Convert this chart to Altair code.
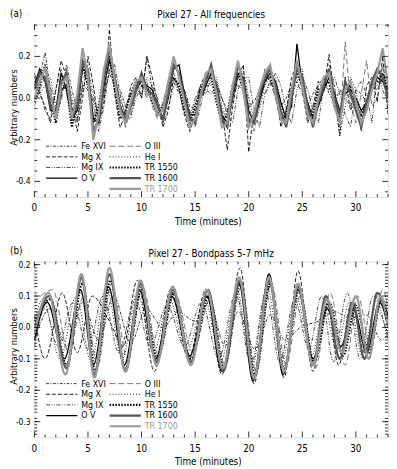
import altair as alt
import pandas as pd

FONT = "Liberation Sans Narrow, DejaVu Sans Condensed, sans-serif"

SERIES = ["Fe XVI", "Mg X", "Mg IX", "O V", "O III", "He I", "TR 1550", "TR 1600", "TR 1700"]
COLORS = ["#000000", "#000000", "#333333", "#000000", "#555555", "#000000", "#000000", "#555555", "#9a9a9a"]
TEXT_COLORS = ["#000000"] * 8 + ["#9a9a9a"]
DASHES = [[3, 1.5, 1, 1.5], [4, 2], [4, 1.5, 1, 1.5, 1, 1.5], [1, 0], [6, 3], [1, 2], [1.5, 1.5], [1, 0], [1, 0]]
WIDTHS = [0.8, 0.9, 0.9, 1.3, 0.8, 0.9, 2.2, 2.2, 2.2]
LEG_COL = [0, 0, 0, 0, 1, 1, 1, 1, 1]
LEG_ROW = [0, 1, 2, 3, 0, 1, 2, 3, 4]

# ---------------- panel (a): all frequencies, sampled every 0.5 min ----------------
T_A = [i * 0.5 for i in range(67)]

A_FE16 = [0.00, 0.10, 0.22, 0.04, -0.10, 0.00, 0.16, 0.04, -0.06, 0.06,
          0.04, 0.00, -0.08, 0.02, 0.12, 0.06, 0.04, -0.04, 0.02, 0.06,
          0.00, 0.20, 0.04, -0.02, -0.06, 0.02, 0.08, 0.02, 0.04, -0.04,
          -0.06, 0.00, 0.04, 0.02, 0.06, 0.00, -0.06, 0.02, 0.06, 0.04,
          -0.04, -0.02, 0.04, 0.02, 0.08, 0.04, -0.04, 0.00, 0.06, 0.08,
          0.02, -0.04, 0.02, 0.06, 0.10, 0.02, -0.02, 0.04, 0.00, -0.04,
          0.04, 0.02, -0.02, 0.06, 0.04, 0.10, 0.00]
A_MG10 = [0.12, 0.02, -0.04, -0.12, 0.04, 0.18, 0.10, -0.04, -0.16, 0.00,
          0.20, 0.06, -0.12, -0.02, 0.33, 0.02, -0.14, -0.08, 0.06, 0.10,
          0.00, 0.20, 0.10, -0.02, -0.14, -0.06, 0.10, 0.04, -0.08, -0.16,
          -0.08, 0.06, 0.12, 0.14, 0.02, -0.06, -0.25, -0.04, 0.10, 0.16,
          -0.26, -0.06, 0.02, 0.08, 0.14, 0.06, -0.14, -0.06, 0.10, 0.16,
          0.04, -0.12, -0.04, 0.08, 0.04, 0.21, 0.00, -0.18, 0.10, -0.06,
          0.00, -0.16, 0.06, 0.10, -0.02, 0.20, -0.08]
A_MG9 = [0.10, 0.04, -0.06, -0.10, 0.04, 0.14, 0.02, -0.06, -0.12, 0.06,
         0.08, -0.02, -0.16, -0.04, 0.14, 0.16, 0.02, -0.10, -0.08, 0.00,
         0.06, 0.00, 0.06, 0.00, -0.12, -0.04, 0.06, 0.08, 0.04, -0.06,
         -0.14, -0.04, 0.06, 0.06, 0.08, 0.00, -0.08, -0.12, 0.04, 0.10,
         0.10, -0.06, -0.14, 0.02, 0.06, 0.12, 0.06, -0.06, -0.12, 0.04,
         0.10, 0.04, -0.06, -0.12, 0.06, 0.04, 0.10, 0.02, -0.08, -0.14,
         0.04, 0.08, 0.02, -0.12, 0.14, 0.04, -0.02]
A_O5 = [0.06, 0.14, 0.08, -0.06, -0.06, 0.12, 0.04, -0.10, -0.06, 0.14,
        0.12, -0.10, -0.12, 0.06, 0.18, 0.10, -0.06, -0.12, -0.04, 0.06,
        0.08, 0.06, 0.04, -0.04, -0.10, 0.00, 0.14, 0.16, 0.02, -0.08,
        -0.08, 0.00, 0.06, 0.12, 0.06, -0.08, -0.12, 0.00, 0.12, 0.10,
        -0.06, -0.12, -0.02, 0.08, 0.12, 0.08, -0.02, -0.10, -0.04, 0.26,
        0.06, -0.02, -0.10, -0.04, 0.04, 0.10, 0.02, -0.06, 0.02, 0.04,
        0.00, -0.06, -0.02, 0.04, 0.10, 0.08, 0.02]
A_O3 = [-0.04, 0.04, 0.10, 0.06, -0.06, -0.02, 0.14, -0.02, -0.12, 0.08,
        0.16, -0.06, -0.14, 0.04, 0.16, 0.12, -0.02, -0.14, -0.06, 0.02,
        0.10, 0.08, -0.04, -0.10, -0.02, 0.08, 0.12, 0.04, -0.08, -0.10,
        0.00, 0.06, 0.04, 0.08, 0.08, -0.06, -0.10, 0.04, 0.10, 0.12,
        -0.02, -0.16, -0.04, 0.14, 0.08, 0.00, -0.12, -0.06, 0.06, 0.10,
        0.12, -0.10, -0.06, 0.06, 0.02, 0.16, 0.06, -0.14, 0.27, -0.02,
        -0.12, 0.02, 0.18, -0.04, 0.00, 0.16, -0.06]
A_HE1 = [0.08, 0.02, 0.06, 0.10, -0.04, 0.02, 0.12, 0.00, -0.10, 0.04,
         0.14, 0.02, -0.12, 0.00, 0.14, 0.08, 0.00, -0.08, -0.10, 0.04,
         0.02, 0.10, 0.06, -0.06, -0.12, 0.04, 0.08, 0.10, -0.04, -0.08,
         -0.02, 0.06, 0.02, 0.10, 0.10, -0.04, -0.10, -0.02, 0.10, 0.14,
         0.00, -0.10, -0.06, 0.06, 0.10, 0.10, -0.02, -0.12, 0.00, 0.08,
         0.14, -0.02, -0.10, 0.02, 0.04, 0.06, 0.06, -0.18, -0.04, 0.10,
         0.04, -0.10, -0.04, 0.04, 0.06, 0.12, 0.08]
A_TR1550 = [-0.02, 0.06, 0.16, 0.00, -0.12, 0.04, 0.06, -0.14, 0.00, 0.16,
            0.06, -0.12, -0.04, 0.12, 0.20, 0.04, -0.10, -0.06, 0.02, 0.08,
            0.06, 0.06, -0.02, -0.08, -0.04, 0.06, 0.10, 0.06, -0.06, -0.12,
            -0.04, 0.04, 0.10, 0.10, -0.02, -0.12, -0.08, 0.06, 0.12, 0.04,
            -0.12, -0.08, 0.00, 0.08, 0.10, 0.02, -0.10, -0.08, 0.04, 0.12,
            0.06, -0.08, -0.08, 0.04, 0.06, 0.08, -0.04, -0.10, 0.04, 0.06,
            -0.04, -0.08, -0.02, 0.06, 0.08, 0.12, 0.04]
A_TR1600 = [0.04, 0.12, 0.10, -0.04, -0.08, 0.08, 0.12, -0.08, -0.04, 0.18,
            0.12, -0.16, -0.10, 0.10, 0.24, 0.10, -0.04, -0.10, -0.04, 0.04,
            0.12, 0.04, 0.02, -0.04, -0.10, 0.02, 0.16, 0.12, 0.00, -0.10,
            -0.12, 0.02, 0.08, 0.16, 0.04, -0.10, -0.14, 0.02, 0.16, 0.08,
            -0.10, -0.12, 0.02, 0.10, 0.14, 0.06, -0.06, -0.14, 0.00, 0.14,
            0.10, -0.04, -0.14, -0.02, 0.06, 0.14, 0.00, -0.08, 0.08, 0.02,
            -0.06, -0.14, -0.02, 0.08, 0.14, 0.10, 0.00]
A_TR1700 = [0.00, 0.08, 0.14, 0.02, -0.10, 0.06, 0.10, -0.10, 0.02, 0.24,
            0.10, -0.20, -0.08, 0.14, 0.26, 0.08, -0.06, -0.12, -0.02, 0.08,
            0.10, 0.02, 0.00, -0.08, -0.06, 0.08, 0.20, 0.10, -0.02, -0.14,
            -0.10, 0.00, 0.12, 0.14, 0.02, -0.14, -0.12, 0.06, 0.18, 0.04,
            -0.14, -0.08, 0.04, 0.12, 0.16, 0.02, -0.10, -0.12, 0.04, 0.18,
            0.06, -0.08, -0.12, 0.00, 0.10, 0.12, -0.04, -0.12, 0.04, 0.08,
            -0.02, -0.12, -0.06, 0.04, 0.12, 0.24, 0.06]

A_ALL = [A_FE16, A_MG10, A_MG9, A_O5, A_O3, A_HE1, A_TR1550, A_TR1600, A_TR1700]

# ---------------- panel (b): bandpass 5-7 mHz, turning points ----------------
B_FE16_T = [0, 1.5, 3.0, 4.5, 6.0, 7.4, 9.0, 10.4, 12.0, 13.4, 15.0, 16.3, 17.8, 19.0, 20.6, 22.0, 23.4, 24.8, 26.5, 28.0, 29.5, 31.0, 32.4, 33.0]
B_FE16_V = [-0.04, 0.06, -0.06, 0.08, -0.04, 0.10, -0.05, 0.06, 0.00, 0.05, 0.02, 0.08, -0.06, 0.05, -0.07, 0.04, -0.04, 0.00, 0.02, 0.05, 0.03, 0.04, -0.04, -0.02]
B_MG10_T = [0, 1.0, 2.6, 4.0, 5.4, 7.0, 8.3, 9.6, 11.2, 12.7, 14.4, 16.0, 17.5, 19.2, 20.5, 21.9, 23.3, 24.6, 26.0, 27.2, 28.4, 29.6, 30.8, 32.0, 33.0]
B_MG10_V = [0.04, -0.10, 0.11, -0.08, 0.10, 0.02, -0.06, 0.15, -0.14, 0.12, -0.10, 0.12, -0.15, 0.19, -0.18, 0.17, -0.16, 0.18, -0.14, 0.10, -0.12, 0.08, -0.08, 0.10, 0.04]
B_MG9_T = [0, 1.0, 2.2, 3.6, 5.0, 6.4, 7.9, 9.4, 10.8, 12.4, 14.0, 15.6, 17.2, 18.8, 20.2, 21.6, 22.9, 24.3, 25.6, 26.8, 27.9, 29.2, 30.4, 31.6, 33.0]
B_MG9_V = [-0.06, 0.06, -0.06, 0.08, -0.07, 0.10, -0.08, 0.09, -0.06, 0.07, -0.06, 0.08, -0.10, 0.11, -0.12, 0.11, -0.11, 0.09, -0.07, 0.10, -0.11, 0.11, -0.10, 0.10, -0.04]
B_O5_T = [0, 1.2, 2.8, 4.3, 5.5, 6.9, 8.4, 9.8, 11.3, 12.8, 14.5, 16.1, 17.5, 19.1, 20.4, 21.9, 23.2, 24.6, 26.0, 27.3, 28.6, 29.8, 31.0, 32.2, 33.0]
B_O5_V = [-0.04, 0.08, -0.10, 0.12, -0.12, 0.13, -0.12, 0.12, -0.10, 0.10, -0.09, 0.10, -0.14, 0.14, -0.17, 0.17, -0.15, 0.12, -0.10, 0.06, -0.06, 0.06, -0.08, 0.08, 0.00]
B_O3_T = [0, 1.7, 3.2, 4.6, 5.9, 7.2, 8.7, 10.1, 11.6, 13.1, 14.8, 16.4, 17.8, 19.3, 20.7, 22.1, 23.5, 24.8, 26.2, 27.6, 29.0, 30.2, 31.4, 32.5, 33.0]
B_O3_V = [0.08, 0.12, -0.08, 0.10, -0.12, 0.14, -0.10, 0.13, -0.09, 0.11, -0.08, 0.09, -0.12, 0.13, -0.14, 0.14, -0.12, 0.10, -0.13, 0.11, -0.12, 0.10, -0.07, 0.12, 0.06]
B_HE1_T = [0, 0.8, 2.4, 3.9, 5.3, 6.7, 8.2, 9.6, 11.1, 12.6, 14.2, 15.9, 17.4, 18.9, 20.3, 21.7, 23.1, 24.4, 25.9, 27.0, 28.2, 29.4, 30.6, 31.8, 33.0]
B_HE1_V = [0.02, 0.09, -0.10, 0.10, -0.11, 0.13, -0.10, 0.11, -0.08, 0.09, -0.08, 0.09, -0.11, 0.12, -0.13, 0.13, -0.11, 0.10, -0.09, 0.07, -0.07, 0.08, -0.09, 0.06, -0.02]
B_TR1550_T = [0, 1.5, 3.0, 4.5, 5.7, 7.1, 8.5, 10.0, 11.5, 13.0, 14.6, 16.3, 17.7, 19.2, 20.6, 22.0, 23.3, 24.7, 26.1, 27.5, 28.8, 30.0, 31.2, 32.4, 33.0]
B_TR1550_V = [0.02, 0.09, -0.12, 0.14, -0.14, 0.15, -0.13, 0.12, -0.10, 0.11, -0.10, 0.10, -0.13, 0.14, -0.15, 0.14, -0.13, 0.12, -0.11, 0.08, -0.09, 0.07, -0.08, 0.09, 0.03]
B_TR1600_T = [0, 1.4, 3.0, 4.4, 5.6, 7.0, 8.5, 9.9, 11.4, 12.9, 14.6, 16.2, 17.6, 19.2, 20.5, 21.9, 23.3, 24.6, 26.0, 27.2, 28.5, 29.7, 30.8, 32.0, 33.0]
B_TR1600_V = [0.00, 0.10, -0.13, 0.16, -0.15, 0.17, -0.14, 0.14, -0.11, 0.12, -0.11, 0.12, -0.14, 0.15, -0.16, 0.15, -0.14, 0.13, -0.12, 0.10, -0.10, 0.08, -0.10, 0.11, 0.02]
B_TR1700_T = [0, 1.3, 2.9, 4.4, 5.6, 7.0, 8.5, 9.9, 11.4, 12.9, 14.6, 16.1, 17.6, 19.1, 20.5, 21.9, 23.3, 24.6, 26.0, 27.3, 28.7, 30.0, 31.2, 32.3, 33.0]
B_TR1700_V = [-0.02, 0.11, -0.15, 0.17, -0.16, 0.19, -0.14, 0.15, -0.12, 0.13, -0.12, 0.12, -0.13, 0.16, -0.16, 0.16, -0.14, 0.14, -0.12, 0.09, -0.08, 0.10, -0.10, 0.10, 0.00]

B_T = [B_FE16_T, B_MG10_T, B_MG9_T, B_O5_T, B_O3_T, B_HE1_T, B_TR1550_T, B_TR1600_T, B_TR1700_T]
B_V = [B_FE16_V, B_MG10_V, B_MG9_V, B_O5_V, B_O3_V, B_HE1_V, B_TR1550_V, B_TR1600_V, B_TR1700_V]

# axis tick values and labels
X_LABELS = [0, 5, 10, 15, 20, 25, 30]
X_MINOR = [i for i in range(34) if i % 5 != 0]
A_YLABELS = [-0.4, -0.2, 0.0, 0.2]
A_YMINOR = [-0.45, -0.35, -0.3, -0.25, -0.15, -0.1, -0.05, 0.05, 0.1, 0.15, 0.25, 0.3, 0.35]
B_YLABELS = [-0.3, -0.2, -0.1, 0.0, 0.1, 0.2]
B_YMINOR = [round(-0.34 + 0.01 * i, 2) for i in range(55) if (i + 4) % 10 != 0]
X_TITLE = "Time (minutes)"
Y_TITLE = "Arbitrary numbers"

W = 362

rows = []
for name, vals in zip(SERIES, A_ALL):
    for t, v in zip(T_A, vals):
        rows.append({"series": name, "t": t, "v": v})
df_a = pd.DataFrame(rows)

rows = []
for name, ts, vs in zip(SERIES, B_T, B_V):
    for t, v in zip(ts, vs):
        rows.append({"series": name, "t": t, "v": v})
df_b = pd.DataFrame(rows)

leg_df = pd.DataFrame({"series": SERIES, "col": LEG_COL, "row": LEG_ROW})


def style_encodings():
    return dict(
        color=alt.Color("series:N", scale=alt.Scale(domain=SERIES, range=COLORS), legend=None),
        strokeDash=alt.StrokeDash("series:N", scale=alt.Scale(domain=SERIES, range=DASHES), legend=None),
        strokeWidth=alt.StrokeWidth("series:N", scale=alt.Scale(type="ordinal", domain=SERIES, range=WIDTHS), legend=None),
    )


def panel(df, H, ydom, ylabels, yminor, title, tag, interp, tag_y, title_y, xlab_dy, xtitle_dy):
    xs = alt.Scale(domain=[0, 33], nice=False, zero=False)
    ys = alt.Scale(domain=ydom, nice=False, zero=False)
    lines = alt.Chart(df).mark_line(clip=True, interpolate=interp).encode(
        x=alt.X("t:Q", scale=xs, axis=None),
        y=alt.Y("v:Q", scale=ys, axis=None),
        detail="series:N",
        **style_encodings(),
    )
    layers = [lines]
    tick_style = dict(color="black", strokeWidth=0.8)
    for vals, L in ((X_LABELS, 6), (X_MINOR, 3)):
        d = pd.DataFrame({"t": vals})
        layers.append(alt.Chart(d).mark_rule(**tick_style).encode(
            x=alt.X("t:Q", scale=xs, axis=None), y=alt.value(H), y2=alt.value(H - L)))
        layers.append(alt.Chart(d).mark_rule(**tick_style).encode(
            x=alt.X("t:Q", scale=xs, axis=None), y=alt.value(0), y2=alt.value(L)))
    for vals, L in ((ylabels, 6), (yminor, 3)):
        d = pd.DataFrame({"v": vals})
        layers.append(alt.Chart(d).mark_rule(**tick_style).encode(
            y=alt.Y("v:Q", scale=ys, axis=None), x=alt.value(0), x2=alt.value(L)))
        layers.append(alt.Chart(d).mark_rule(**tick_style).encode(
            y=alt.Y("v:Q", scale=ys, axis=None), x=alt.value(W), x2=alt.value(W - L)))
    # tick labels
    layers.append(alt.Chart(pd.DataFrame({"t": X_LABELS})).transform_calculate(
        lab="format(datum.t, 'd')").mark_text(
        font=FONT, fontSize=10, baseline="middle", align="center", color="black").encode(
        x=alt.X("t:Q", scale=xs, axis=None), y=alt.value(H + xlab_dy), text="lab:N"))
    layers.append(alt.Chart(pd.DataFrame({"v": ylabels})).transform_calculate(
        lab="replace(format(datum.v, '.1f'), '\u2212', '-')").mark_text(
        font=FONT, fontSize=8.5, baseline="middle", align="right", color="black").encode(
        y=alt.Y("v:Q", scale=ys, axis=None), x=alt.value(-4), text="lab:N"))
    # axis titles, panel tag and panel title
    layers.append(alt.Chart(pd.DataFrame({"label": [X_TITLE]})).mark_text(
        font=FONT, fontSize=10, baseline="middle", align="center", color="black").encode(
        x=alt.value(W / 2 - 3), y=alt.value(H + xtitle_dy), text="label:N"))
    layers.append(alt.Chart(pd.DataFrame({"label": [Y_TITLE]})).mark_text(
        font=FONT, fontSize=9.5, baseline="alphabetic", align="center", angle=270, color="black").encode(
        x=alt.value(-18), y=alt.value(H / 2 - 3), text="label:N"))
    layers.append(alt.Chart(pd.DataFrame({"label": [tag]})).mark_text(
        align="left", baseline="middle", font=FONT, fontSize=10, color="black").encode(
        x=alt.value(-25), y=alt.value(tag_y), text="label:N"))
    layers.append(alt.Chart(pd.DataFrame({"label": [title]})).mark_text(
        align="center", baseline="middle", font=FONT, fontSize=10, color="black").encode(
        x=alt.value(W / 2), y=alt.value(title_y), text="label:N"))
    # legend drawn inside the plot, two columns
    leg_pos = alt.Chart(leg_df).transform_calculate(
        lx="datum.col * 65 + 12", lx2="datum.col * 65 + 44",
        tx="datum.col * 65 + 48", ly="datum.row * 10.9 + 125")
    layers.append(leg_pos.mark_rule().encode(
        x=alt.X("lx:Q", scale=None, axis=None), x2="lx2:Q",
        y=alt.Y("ly:Q", scale=None, axis=None), **style_encodings()))
    layers.append(leg_pos.mark_text(align="left", baseline="middle", font=FONT, fontSize=9).encode(
        x=alt.X("tx:Q", scale=None, axis=None), y=alt.Y("ly:Q", scale=None, axis=None),
        text="series:N",
        fill=alt.Fill("series:N", scale=alt.Scale(domain=SERIES, range=TEXT_COLORS), legend=None)))
    return alt.layer(*layers).properties(width=W, height=H)


pa = panel(df_a, 177, [-0.475, 0.355], A_YLABELS, A_YMINOR, "Pixel 27 - All frequencies", "(a)",
           "linear", -10, -9.5, 11, 26)
pb = panel(df_b, 180, [-0.35, 0.21], B_YLABELS, B_YMINOR, "Pixel 27 - Bondpass 5-7 mHz", "(b)",
           "monotone", -11, -8, 12, 25)

chart = alt.vconcat(pa, pb, spacing=17).properties(
    padding={"left": 0, "top": -5, "right": 0, "bottom": 0}
).configure_view(stroke="black", strokeWidth=1).configure(background="white")

chart.save("out.html", embed_options={"renderer": "svg", "actions": False})
